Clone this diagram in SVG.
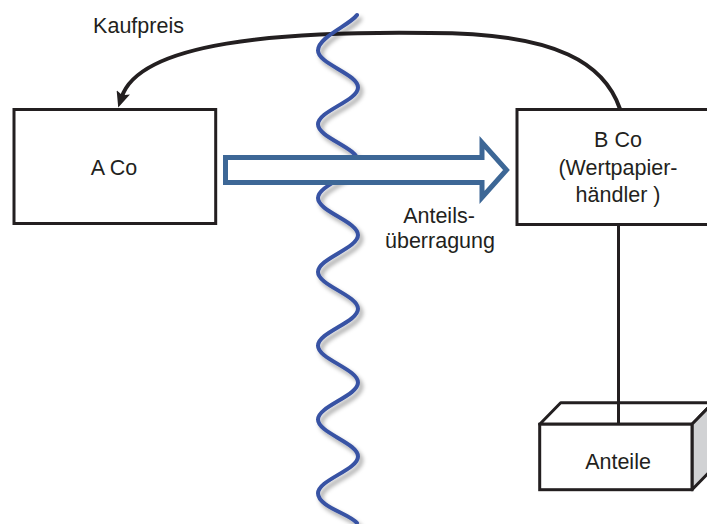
<svg xmlns="http://www.w3.org/2000/svg" width="707" height="524" viewBox="0 0 707 524">
  <style>
    .box { fill: #ffffff; stroke: #231f20; stroke-width: 3; }
    .lbl { font-family: "Liberation Sans", Arial, sans-serif; font-size: 21.5px; fill: #231f20; text-anchor: middle; }
    .flow { fill: none; stroke: #231f20; stroke-width: 4; }
    .wave { fill: none; stroke: #3953a4; stroke-width: 4; stroke-linecap: round; }
    .transfer { fill: #ffffff; stroke: #3d6796; stroke-width: 5; stroke-linejoin: miter; }
  </style>
  <defs>
    <marker id="arrowHead" markerUnits="userSpaceOnUse" viewBox="0 0 16 14" markerWidth="16" markerHeight="14" refX="5" refY="7" orient="auto">
      <path d="M0,0 L16,7 L0,14 L3,7 z" fill="#231f20"/>
    </marker>
    <filter id="softShadow" x="-30%" y="-5%" width="160%" height="110%">
      <feDropShadow dx="3" dy="4" stdDeviation="2" flood-color="#000000" flood-opacity="0.35"/>
    </filter>
  </defs>

  <!-- connectors -->
  <g id="connectors">
    <!-- purchase price flowing back from B Co to A Co -->
    <path id="purchase-price" class="flow" d="M620,109 C605,65 560,33 430,33 C280,31 140,42 121.7,97.1" marker-end="url(#arrowHead)"/>
    <!-- wavy border line -->
    <path id="border" class="wave" filter="url(#softShadow)" d="M357,15 C350,25 318,37.1 318,50.5 C318,63.9 358,74 358,87.4 C358,100.8 318,110.9 318,124.3 C318,137.7 358,147.8 358,161.2 C358,174.6 318,184.7 318,198.1 C318,211.5 358,221.6 358,235 C358,248.4 318,258.5 318,271.9 C318,285.3 358,295.4 358,308.8 C358,322.2 318,332.3 318,345.7 C318,359.1 358,369.2 358,382.6 C358,396 318,406.1 318,419.5 C318,432.9 358,443 358,456.4 C358,469.8 318,479.9 318,493.3 C318,506.7 350,514 357,523"/>
    <!-- share transfer arrow -->
    <polygon id="share-transfer" class="transfer" points="225.5,157.5 482,157.5 482,142.5 506.5,170 482,197.5 482,182.5 225.5,182.5"/>
    <!-- link between B Co and its shares -->
    <line id="holding" x1="618.5" y1="224.5" x2="618.5" y2="424" stroke="#231f20" stroke-width="3"/>
  </g>

  <g id="label-kaufpreis">
    <text class="lbl" x="138.5" y="33">Kaufpreis</text>
  </g>

  <g id="label-transfer">
    <text class="lbl" x="439" y="223">Anteils-</text>
    <text class="lbl" x="440" y="248">überragung</text>
  </g>

  <g id="node-a-co">
    <rect class="box" x="14" y="109.5" width="201.7" height="114"/>
    <text class="lbl" x="114" y="175">A Co</text>
  </g>

  <g id="node-b-co">
    <rect class="box" x="517" y="109.5" width="200" height="115"/>
    <text class="lbl" x="618" y="147">B Co</text>
    <text class="lbl" x="618" y="174.5">(Wertpapier-</text>
    <text class="lbl" x="618" y="202">händler )</text>
  </g>

  <g id="node-anteile">
    <polygon points="539.7,424.2 560.7,402.8 713,402.8 692,424.2" fill="#ffffff" stroke="#231f20" stroke-width="3" stroke-linejoin="round"/>
    <polygon points="692,424.2 713,402.8 713,468.4 692,489.7" fill="#d1d2d4" stroke="#231f20" stroke-width="3" stroke-linejoin="round"/>
    <rect class="box" x="539.7" y="424.2" width="152.3" height="65.5"/>
    <line x1="618.5" y1="402.8" x2="618.5" y2="424.2" stroke="#231f20" stroke-width="3"/>
    <text class="lbl" x="618" y="469">Anteile</text>
  </g>
</svg>
